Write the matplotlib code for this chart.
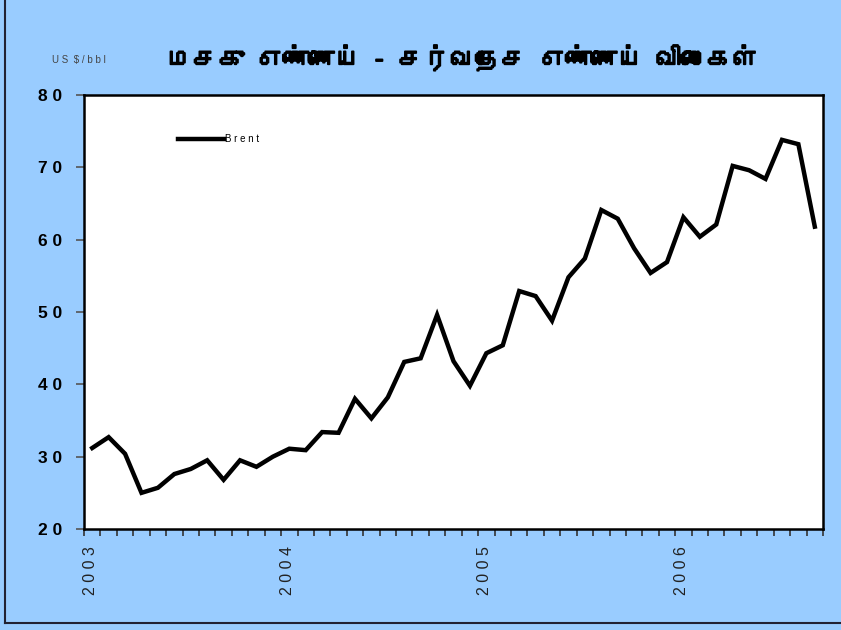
import numpy as np
import matplotlib
matplotlib.use("Agg")
import matplotlib.pyplot as plt
import matplotlib.patheffects as pe
import matplotlib.transforms as mtransforms
from matplotlib import font_manager as fm
from matplotlib.ft2font import FT2Font

# monthly Brent prices, Jan 2003 - Sep 2006 (US$/bbl)
months = np.arange(45) + 0.5
brent = [31.2, 32.7, 30.4, 25.0, 25.7, 27.6, 28.3, 29.5, 26.8, 29.5, 28.6, 30.0,
         31.1, 30.9, 33.4, 33.3, 38.0, 35.3, 38.2, 43.1, 43.6, 49.6, 43.2, 39.8,
         44.3, 45.4, 52.9, 52.2, 48.8, 54.8, 57.4, 64.1, 62.9, 58.8, 55.4, 56.9,
         63.1, 60.4, 62.1, 70.2, 69.6, 68.4, 73.8, 73.2, 61.8]
year_pos = [0, 12, 24, 36]
year_labels = ["2 0 0 3", "2 0 0 4", "2 0 0 5", "2 0 0 6"]
y_ticks = [20, 30, 40, 50, 60, 70, 80]
title = "மசகு எண்ணெய் - சர்வதேச எண்ணெய் விலைகள்"


def find_font(ch):
    for f in fm.fontManager.ttflist:
        try:
            if ord(ch) in FT2Font(f.fname).get_charmap():
                return f.name
        except Exception:
            pass
    return None


tamil = find_font("ம")
title_family = [tamil, "DejaVu Sans"] if tamil else ["DejaVu Sans"]
narrow = ["Liberation Sans Narrow", "Liberation Sans", "DejaVu Sans"]

bg = "#99CCFF"
fig = plt.figure(figsize=(8.41, 6.30), dpi=100, facecolor=bg)
ax = fig.add_axes([0.0999, 0.1603, 0.8787, 0.6889])
ax.set_facecolor("white")

ax.plot(months, brent, color="black", linewidth=3.2, label="B r e n t",
        solid_joinstyle="miter")

ax.set_xlim(0, 45)
ax.set_ylim(20, 80)
ax.set_xticks(year_pos)
ax.set_xticklabels(year_labels, rotation=90, fontsize=11.5, family=narrow,
                   color="#222222")
ax.set_xticks(np.arange(46), minor=True)
ax.tick_params(axis="x", which="both", direction="out", length=5, width=1.2,
               color="#333333", pad=7)
# year labels sit a little to the right of their tick
shift = mtransforms.ScaledTranslation(6 / 100, 0, fig.dpi_scale_trans)
for lab in ax.get_xticklabels():
    lab.set_transform(lab.get_transform() + shift)

ax.set_yticks(y_ticks)
ax.set_yticklabels([" ".join(str(v)) for v in y_ticks], fontsize=12.5,
                   family=narrow, fontweight="bold")
ax.tick_params(axis="y", direction="out", length=6, width=1.2,
               color="#555555", pad=10)
for s in ax.spines.values():
    s.set_linewidth(1.8)
    s.set_color("black")

ax.legend(loc="upper left", bbox_to_anchor=(0.115, 0.93), frameon=False,
          handlelength=4.8, handletextpad=0.1,
          prop={"family": narrow, "size": 7})

fig.text(0.551, 0.908, title, ha="center", va="center", fontsize=18.5,
         fontweight="bold", family=title_family,
         path_effects=[pe.withStroke(linewidth=1.3, foreground="black")])
fig.text(0.062, 0.905, "U S  $ / b b l", ha="left", va="center", fontsize=7,
         family=narrow, color="#444444")

# outer frame (left and bottom edges)
fig.add_artist(plt.Line2D([0.006, 0.006], [0.011, 1.0], color="#222233",
                          linewidth=1.5, transform=fig.transFigure))
fig.add_artist(plt.Line2D([0.006, 1.0], [0.011, 0.011], color="#222233",
                          linewidth=1.5, transform=fig.transFigure))

fig.savefig("out.png", dpi=100, facecolor=bg)
